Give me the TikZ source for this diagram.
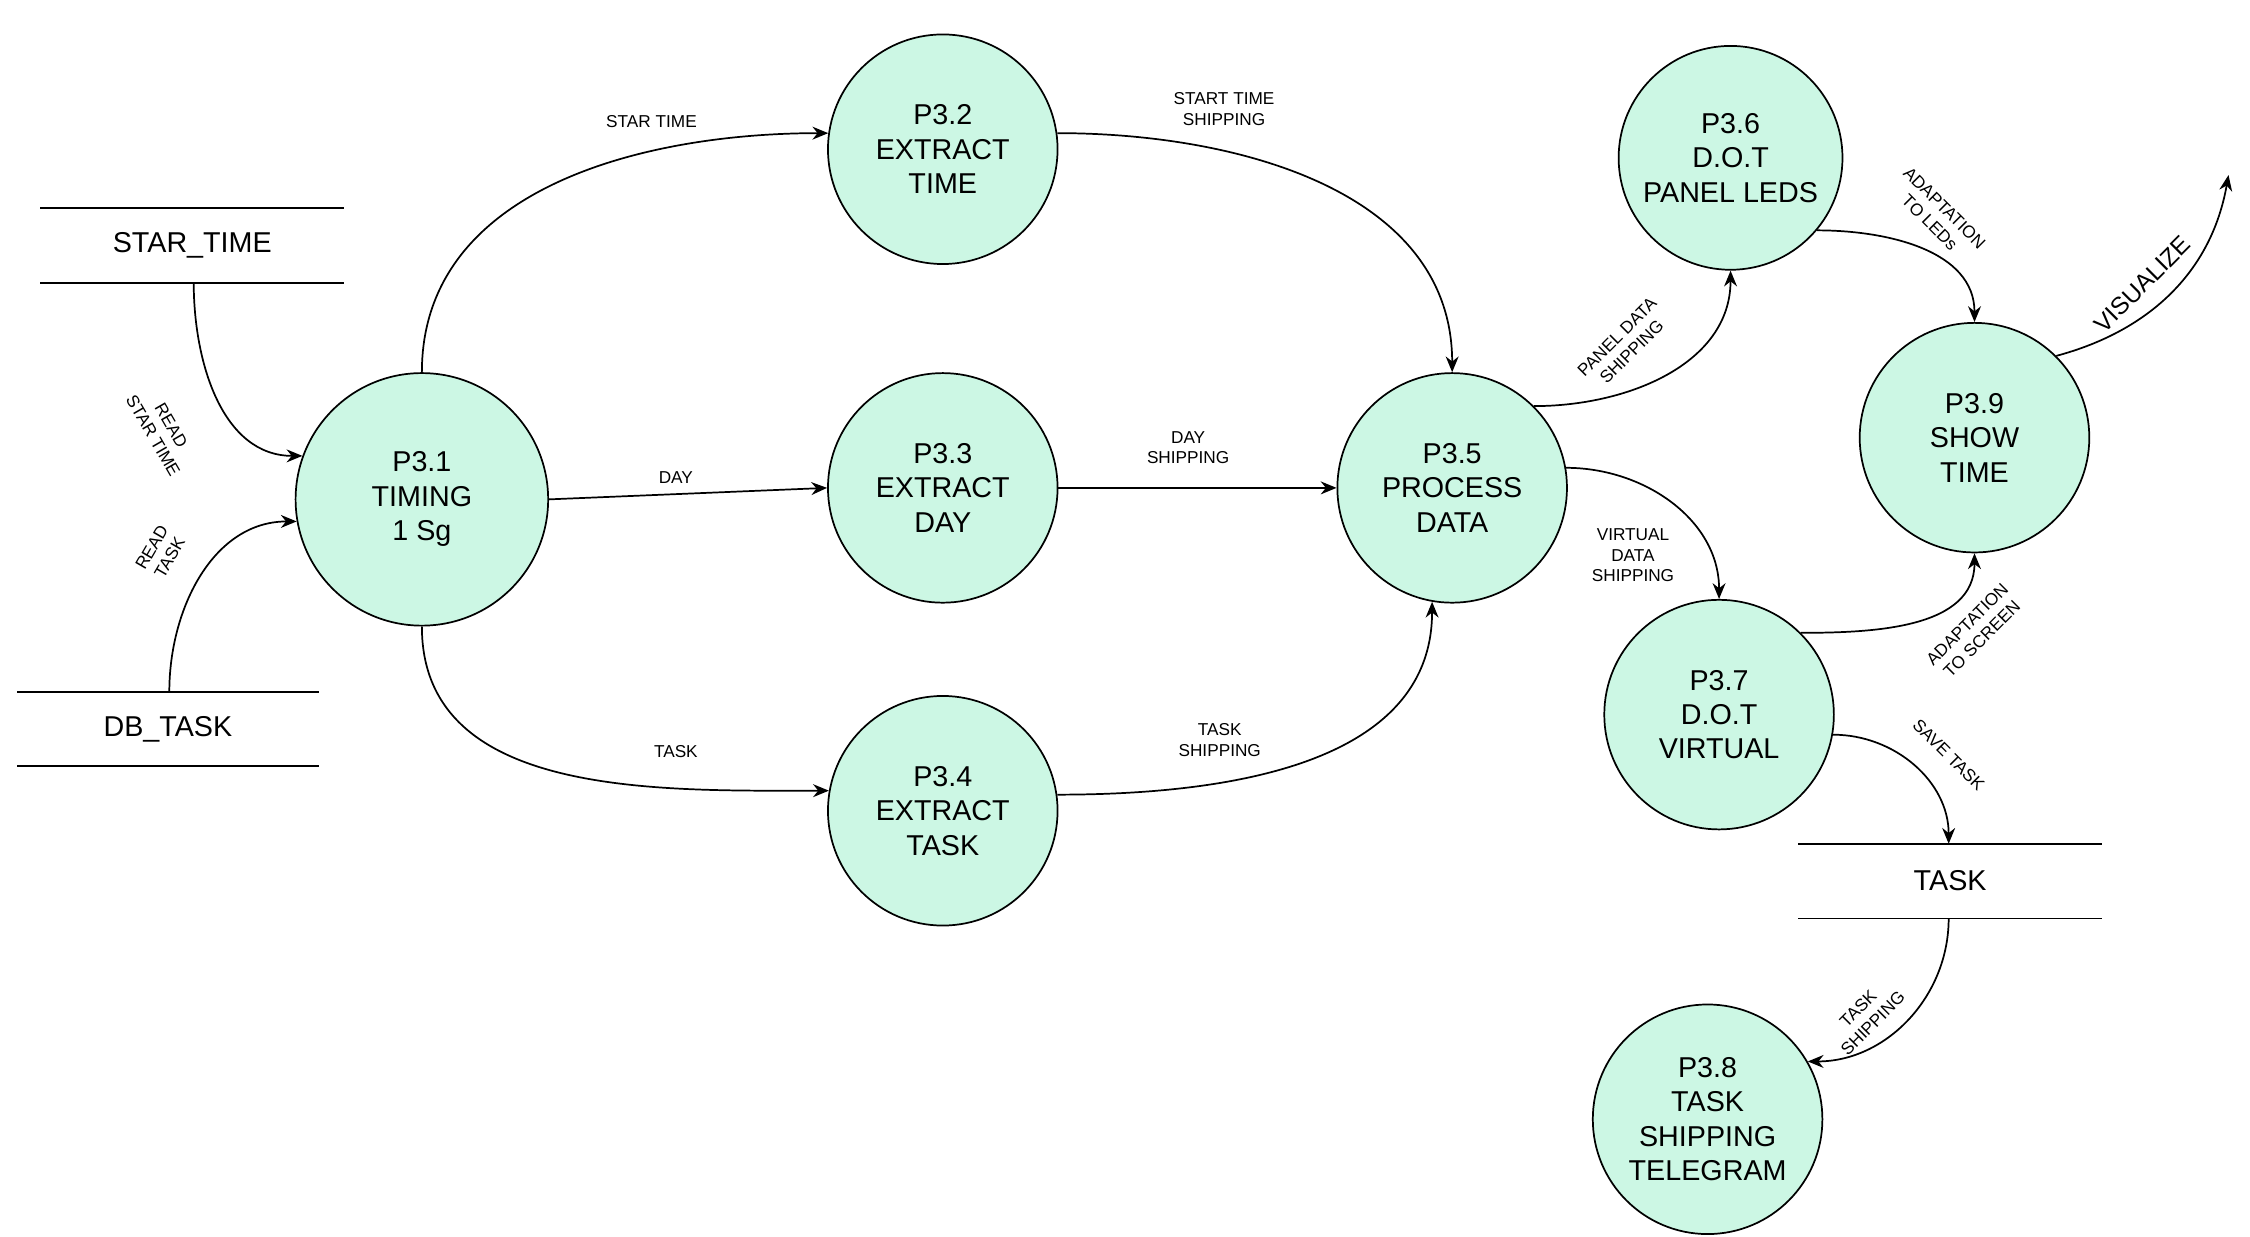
\documentclass[tikz,border=0pt]{standalone}
\usepackage{fontspec}
\setmainfont{Liberation Sans}
\usetikzlibrary{arrows.meta}
\definecolor{mint}{RGB}{204,247,228}
\begin{document}
\begin{tikzpicture}[x=1pt,y=-1pt,
 proc/.style={circle,draw,line width=1.2pt,fill=mint,minimum size=#1,inner sep=0pt,align=center,font=\fontsize{20}{24}\selectfont},
 proc/.default=160pt,
 store/.style={font=\fontsize{20}{24}\selectfont},
 lbl/.style={font=\fontsize{12}{14.5}\selectfont,align=center},
 arr/.style={line width=1.2pt,-{Stealth[length=11pt,width=9pt]}},
 ln/.style={line width=1.2pt}]
\useasboundingbox (0,0) rectangle (1568,862);
% stores
\draw[ln] (28,145) -- (240,145) (28,197) -- (240,197);
\node[store] (st) at (134,171) {STAR\_TIME};
\coordinate (stb) at (135,197);
\draw[ln] (12,482) -- (222,482) (12,534) -- (222,534);
\node[store] (db) at (117,508) {DB\_TASK};
\coordinate (dbt) at (118,482);
\draw[ln] (1253,588) -- (1465,588) (1253,640) -- (1465,640);
\node[store] (tk) at (1359,614) {TASK};
\coordinate (tkt) at (1358,588);
\coordinate (tkb) at (1358,640);
% processes
\node[proc=176pt] (p1) at (294,348) {P3.1\\TIMING\\1 Sg};
\node[proc] (p2) at (657,104) {P3.2\\EXTRACT\\TIME};
\node[proc] (p3) at (657,340) {P3.3\\EXTRACT\\DAY};
\node[proc] (p4) at (657,565) {P3.4\\EXTRACT\\TASK};
\node[proc] (p5) at (1012,340) {P3.5\\PROCESS\\DATA};
\node[proc=156pt] (p6) at (1206,110) {P3.6\\D.O.T\\PANEL LEDS};
\node[proc] (p9) at (1376,305) {P3.9\\SHOW\\TIME};
\node[proc] (p7) at (1198,498) {P3.7\\D.O.T\\VIRTUAL};
\node[proc] (p8) at (1190,780) {P3.8\\TASK\\SHIPPING\\TELEGRAM};
\coordinate (vis) at (1553,122);
% edges
\draw[arr] (stb) to[out=-90,in=180] (p1.160);
\node[lbl,rotate=-60] at (113,300) {READ\\STAR TIME};
\draw[arr] (dbt) to[out=90,in=180] (p1.190);
\node[lbl,rotate=60] at (112,385) {READ\\TASK};
\draw[arr] (p1.north) to[out=90,in=180] (p2.172);
\node[lbl] at (454,85) {STAR TIME};
\draw[arr] (p1.east) -- (p3.west);
\node[lbl] at (471,333) {DAY};
\draw[arr] (p1.south) to[out=-90,in=180] (p4.170);
\node[lbl] at (471,524) {TASK};
\draw[arr] (p2.8) to[out=0,in=90] (p5.north);
\node[lbl] at (853,76) {START TIME\\SHIPPING};
\draw[arr] (p3.east) -- (p5.west);
\node[lbl] at (828,312) {DAY\\SHIPPING};
\draw[arr] (p4.8) to[out=0,in=-90] (p5.-100);
\node[lbl] at (850,516) {TASK\\SHIPPING};
\draw[arr] (p5.45) to[out=0,in=-90] (p6.south);
\node[lbl,rotate=45] at (1132,240) {PANEL DATA\\SHIPPING};
\draw[arr] (p5.10) to[out=0,in=90] (p7.north);
\node[lbl] at (1138,387) {VIRTUAL\\DATA\\SHIPPING};
\draw[arr] (p6.-40) to[out=0,in=90] (p9.north);
\node[lbl,rotate=-45] at (1350,150) {ADAPTATION\\TO LEDs};
\draw[arr] (p7.45) to[out=0,in=-90] (p9.south);
\node[lbl,rotate=45] at (1376,440) {ADAPTATION\\TO SCREEN};
\draw[arr] (p9.45) to[out=15,in=-100] (vis);
\node[font=\fontsize{17}{20}\selectfont,rotate=45] at (1493,198) {VISUALIZE};
\draw[arr] (p7.-10) to[out=0,in=90] (tkt);
\node[lbl,rotate=-45] at (1358,526) {SAVE TASK};
\draw[arr] (tkb) to[out=-90,in=0] (p8.30);
\node[lbl,rotate=45] at (1300,708) {TASK\\SHIPPING};
\end{tikzpicture}
\end{document}
